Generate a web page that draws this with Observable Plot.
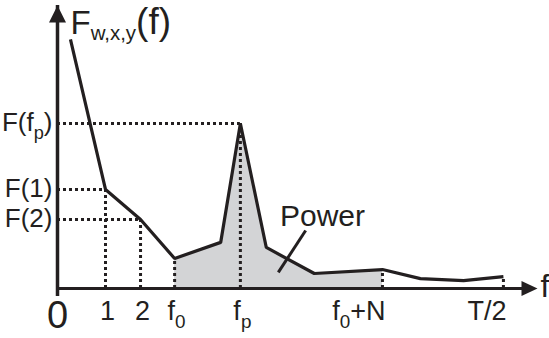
<!DOCTYPE html>
<html>
<head>
<meta charset="utf-8">
<script src="https://cdn.jsdelivr.net/npm/d3@7"></script>
<script src="https://cdn.jsdelivr.net/npm/@observablehq/plot@0.6"></script>
<style>
  html, body { margin: 0; padding: 0; background: #fff; }
  #chart { width: 549px; height: 338px; overflow: hidden; }
</style>
</head>
<body>
<div id="chart"></div>
<script>
// Spectrum (schematic): frequency positions and amplitude F(f)
const freq  = [0.27, 1.00, 1.73, 2.44, 3.40, 3.81, 4.35, 5.35, 6.77, 7.56, 8.46, 9.29];
const power = [8.80, 3.50, 2.44, 1.06, 1.63, 5.83, 1.45, 0.53, 0.67, 0.35, 0.28, 0.42];

// Marked frequencies on the f axis and their labels
const markFreq   = [1.00, 1.73, 2.44, 3.81, 6.77, 9.29];
const markLabel  = ["1", "2", "f_{0}", "f_{p}", "f_{0}+N", "T/2"];
const markAnchor = ["middle", "middle", "middle", "middle", "end", "end"];

// Marked levels on the F axis
const levelFreq  = [1.00, 1.73, 3.81];
const levelLabel = ["F(1)", "F(2)", "F(f_{p})"];

// Band of integrated power: from f0 to f0+N
const bandStart = 2.44, bandEnd = 6.77;

// Text labels
const titleText = "F_{w,x,y}(f)";
const titlePos  = {x: 0.27, y: 9.0};
const powerText = "Power";
const powerPos  = {x: 5.52, y: 2.55};
const leader    = {x1: 5.17, y1: 2.05, x2: 4.60, y2: 0.57};
const xAxisLabel = "f";

const ink = "#231f20";
const spectrum = freq.map((f, i) => ({f, F: power[i]}));
const lookup = f => spectrum.find(d => d.f === f).F;
const band = spectrum.filter(d => d.f >= bandStart && d.f <= bandEnd);
const marks = markFreq.map((f, i) => ({f, F: lookup(f), label: markLabel[i], anchor: markAnchor[i]}));
const levels = levelFreq.map((f, i) => ({f, F: lookup(f), label: levelLabel[i]}));

const arrowRight = {draw(ctx) { ctx.moveTo(0, 0); ctx.lineTo(-16, -7.5); ctx.lineTo(-16, 7.5); ctx.closePath(); }};
const arrowUp = {draw(ctx) { ctx.moveTo(0, 0); ctx.lineTo(-8.5, 17); ctx.lineTo(8.5, 17); ctx.closePath(); }};

const dotted = {stroke: ink, strokeWidth: 3, strokeDasharray: "3,3"};

const chart = Plot.plot({
  width: 549,
  height: 338,
  marginLeft: 57,
  marginRight: 12,
  marginTop: 5,
  marginBottom: 50,
  style: {fontFamily: "'Liberation Sans', Arial, Helvetica, sans-serif", background: "#fff", overflow: "visible"},
  x: {domain: [0, 10], axis: null},
  y: {domain: [0, 10], axis: null},
  marks: [
    Plot.areaY(band, {x: "f", y: "F", fill: "#d3d4d6"}),
    Plot.ruleX(marks, {x: "f", y1: 0, y2: "F", ...dotted}),
    Plot.ruleY(levels, {y: "F", x1: 0, x2: "f", ...dotted}),
    Plot.ruleY([0], {x1: 0, x2: 10, stroke: ink, strokeWidth: 3, insetRight: 8}),
    Plot.ruleX([0], {y1: 0, y2: 10, stroke: ink, strokeWidth: 3.5, insetTop: 8}),
    Plot.dot([{x: 10, y: 0}], {x: "x", y: "y", symbol: arrowRight, fill: ink}),
    Plot.dot([{x: 0, y: 10}], {x: "x", y: "y", symbol: arrowUp, fill: ink}),
    Plot.line(spectrum, {x: "f", y: "F", stroke: ink, strokeWidth: 3.2, strokeLinejoin: "miter", strokeLinecap: "butt"}),
    Plot.link([leader], {x1: "x1", y1: "y1", x2: "x2", y2: "y2", stroke: ink, strokeWidth: 3}),
    // axis labels
    Plot.text([0], {x: 0, y: 0, text: () => "0", fontSize: 38, dy: 27, fill: ink}),
    Plot.text(marks.filter(d => d.anchor === "middle"), {x: "f", y: 0, text: "label", fontSize: 27, dy: 23, dx: 2, fill: ink}),
    Plot.text(marks.filter(d => d.anchor === "end"), {x: "f", y: 0, text: "label", fontSize: 27, dy: 23, dx: 3, textAnchor: "end", fill: ink}),
    Plot.text(levels, {x: 0, y: "F", text: "label", fontSize: 26, dx: -5, dy: -1, textAnchor: "end", fill: ink}),
    Plot.text([0], {x: 10, y: 0, text: () => xAxisLabel, fontSize: 32, dx: 3, dy: -2, textAnchor: "start", fill: ink}),
    Plot.text([titlePos], {x: "x", y: "y", text: () => titleText, fontSize: 33, textAnchor: "start", lineAnchor: "bottom", fill: ink}),
    Plot.text([powerPos], {x: "x", y: "y", text: () => powerText, fontSize: 30, fill: ink})
  ]
});

document.getElementById("chart").appendChild(chart);

// Render "_{...}" as subscripts
const NS = "http://www.w3.org/2000/svg";
chart.querySelectorAll("text").forEach(t => {
  const s = t.textContent;
  if (!s.includes("_{")) return;
  const fs = parseFloat(getComputedStyle(t).fontSize);
  const parts = s.split(/(_\{[^}]*\})/).filter(p => p);
  t.textContent = "";
  let shift = 0;
  const isTitle = s === titleText;
  for (const p of parts) {
    const ts = document.createElementNS(NS, "tspan");
    if (p.startsWith("_{")) {
      ts.textContent = p.slice(2, -1);
      const sub = isTitle ? 0.62 : 0.7;
      const d = isTitle ? fs * 0.2 : fs * 0.3;
      ts.setAttribute("font-size", fs * sub);
      ts.setAttribute("dy", d - shift);
      shift = d;
    } else {
      ts.textContent = p;
      if (shift) { ts.setAttribute("dy", -shift); shift = 0; }
      if (isTitle && p.startsWith("(")) ts.setAttribute("font-size", fs * 1.12);
    }
    t.appendChild(ts);
  }
});
</script>
</body>
</html>
